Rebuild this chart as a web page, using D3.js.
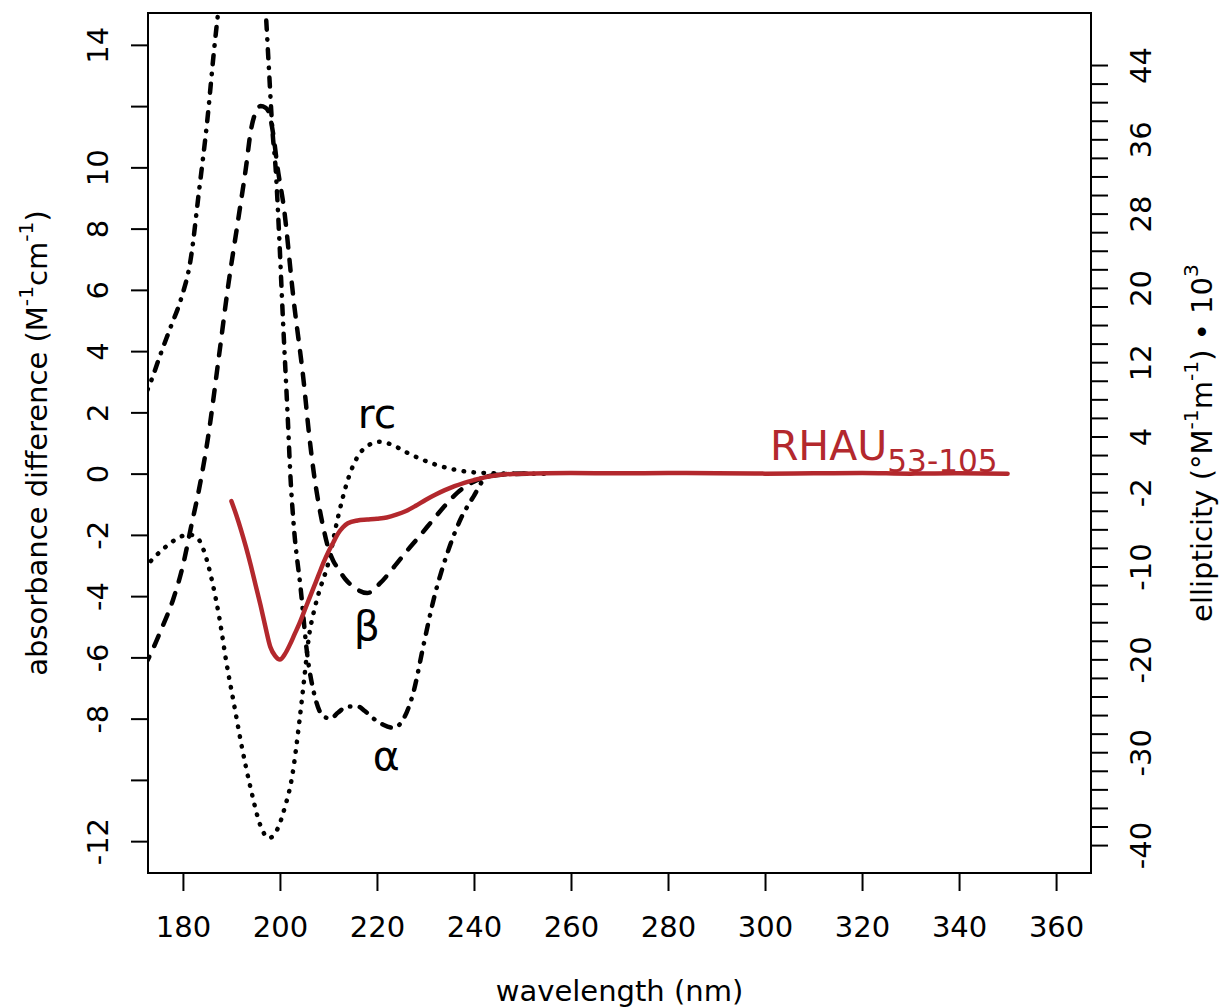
<!DOCTYPE html>
<html>
<head>
<meta charset="utf-8">
<script src="https://cdn.jsdelivr.net/npm/d3@7"></script>
<style>
  body { margin: 0; background: #fff; }
  svg { display: block; }
  text { font-family: "DejaVu Sans", sans-serif; fill: #000; }
</style>
</head>
<body>
<svg id="chart" width="1224" height="1007"></svg>
<script>
// ---- Reference CD spectra (Δε, M^-1 cm^-1) ----
// random coil
const rcWavelength = [172, 174, 176, 178, 180, 181.5, 183, 184.5, 186, 187.5, 189, 190.5, 192, 194, 196, 197.7, 199.5, 201, 202.5, 204, 205, 206, 207, 208, 210, 212, 214, 216, 218, 220.5, 223, 226, 229, 232, 236, 240, 245, 250, 255];
const rcValues     = [-3.1, -2.75, -2.45, -2.2, -2.03, -2.0, -2.1, -2.6, -3.5, -4.7, -6.2, -7.5, -8.8, -10.3, -11.5, -11.9, -11.6, -10.9, -9.9, -8.1, -6.7, -5.3, -4.5, -3.9, -2.9, -1.4, -0.2, 0.55, 0.9, 1.04, 0.95, 0.7, 0.48, 0.3, 0.13, 0.04, 0.01, 0.0, 0.0];

// beta sheet
const betaWavelength = [172, 173, 175.5, 178, 180, 181.6, 183.7, 185.1, 187.4, 189.3, 191.3, 193, 194, 195, 196, 197, 197.7, 198.6, 199.5, 200.8, 202.8, 204.9, 206, 207, 208, 209, 210, 211, 212, 213.5, 215.2, 218, 220.7, 223.5, 226.3, 229, 231.6, 234, 236.6, 239.5, 242.7, 247, 252];
const betaValues     = [-6.3, -6.0, -5.1, -4.1, -3.0, -1.8, -0.2, 1.1, 3.8, 6.1, 8.2, 10.0, 11.2, 11.8, 12.0, 11.95, 11.8, 11.1, 10.0, 8.7, 5.7, 3.0, 1.3, 0.0, -1.0, -1.8, -2.45, -2.85, -3.1, -3.45, -3.7, -3.9, -3.57, -3.05, -2.5, -2.0, -1.5, -1.05, -0.62, -0.3, -0.1, -0.02, 0.0];

// alpha helix
const alphaWavelength = [172, 173, 175.5, 177.5, 179.6, 181.6, 183.3, 185.1, 186.4, 187.5, 189, 190.5, 192, 193.5, 195, 196.2, 197.1, 197.7, 198.5, 199.1, 199.8, 200.6, 201.6, 202.2, 202.8, 204.3, 205.7, 207, 208.8, 210.4, 212, 213.9, 216, 217.5, 219.3, 221.3, 223.4, 225.5, 227.5, 229.6, 231.7, 234.5, 237.2, 239.9, 242.7, 246, 252];
const alphaValues     = [2.5, 2.85, 3.95, 4.8, 5.7, 7.0, 9.2, 11.65, 13.8, 15.4, 17.4, 18.8, 19.5, 19.4, 18.6, 16.9, 15.0, 13.3, 11.1, 10.0, 7.9, 5.1, 1.86, -0.2, -1.6, -3.8, -6.0, -7.15, -7.9, -8.0, -7.8, -7.6, -7.6, -7.75, -8.0, -8.2, -8.3, -8.0, -7.15, -5.6, -4.1, -2.6, -1.5, -0.75, -0.1, -0.02, 0.0];

// RHAU53-105 measured spectrum
const rhauWavelength = [190, 191, 192, 193, 194, 195, 196, 197, 198, 199, 200, 201, 202, 203, 204, 205, 206, 207, 208, 209, 210, 211, 212, 213, 214, 216, 218, 220, 222, 224, 226, 228, 230, 232, 234, 236, 238, 240, 242, 244, 246, 248, 250, 260, 270, 280, 290, 300, 310, 320, 330, 340, 350];
const rhauValues     = [-0.9, -1.35, -1.85, -2.4, -3.0, -3.65, -4.3, -5.0, -5.65, -5.95, -6.07, -5.9, -5.6, -5.25, -4.9, -4.5, -4.1, -3.7, -3.3, -2.9, -2.55, -2.25, -1.95, -1.75, -1.62, -1.53, -1.5, -1.47, -1.43, -1.34, -1.22, -1.05, -0.86, -0.69, -0.54, -0.41, -0.3, -0.21, -0.13, -0.07, -0.03, -0.01, 0.0, 0.02, 0.01, 0.02, 0.01, 0.0, 0.01, 0.02, 0.0, 0.01, 0.0];

// ---- Axes ----
const xLimits = [180, 360];
const yLimits = [-12, 14];
const xTicks = [180, 200, 220, 240, 260, 280, 300, 320, 340, 360];
const yTicks = [-12, -10, -8, -6, -4, -2, 0, 2, 4, 6, 8, 10, 12, 14];
const yLabelled = [-12, -8, -6, -4, -2, 0, 2, 4, 6, 8, 10, 14];
// ellipticity (deg cm^2 dmol^-1 / 10^3) = 3.298 * Δε
const ellipticityFactor = 3.298;
const rightTicks = d3.range(-40, 45, 2);
const rightLabelled = [44, 36, 28, 20, 12, 4, -2, -10, -20, -30, -40];

const svg = d3.select("#chart");
const W = 1224, H = 1007;
svg.append("rect").attr("width", W).attr("height", H).attr("fill", "#fff");

const plot = { left: 148, right: 1091, top: 13, bottom: 873 };

// R-style 4% range extension
const extend = ([a, b]) => { const d = (b - a) * 0.04; return [a - d, b + d]; };
const x = d3.scaleLinear().domain(extend(xLimits)).range([plot.left, plot.right]);
const y = d3.scaleLinear().domain(extend(yLimits)).range([plot.bottom, plot.top]);
const yR = d3.scaleLinear().domain(y.domain().map(v => v * ellipticityFactor)).range([plot.bottom, plot.top]);

const tickFont = 29;
const labelFont = 29;

// clip to plotting region
svg.append("defs").append("clipPath").attr("id", "plotClip")
  .append("rect").attr("x", plot.left).attr("y", plot.top)
  .attr("width", plot.right - plot.left).attr("height", plot.bottom - plot.top);

const line = d3.line().x(d => x(d[0])).y(d => y(d[1])).curve(d3.curveMonotoneX);
const curves = svg.append("g").attr("clip-path", "url(#plotClip)");

const zip = (a, b) => a.map((v, i) => [v, b[i]]);

const styles = [
  { data: zip(rcWavelength, rcValues), dash: "0.5 9.5" },
  { data: zip(betaWavelength, betaValues), dash: "11 12" },
  { data: zip(alphaWavelength, alphaValues), dash: "9 9.5 0.5 9.5" }
];
styles.forEach(s => {
  curves.append("path").datum(s.data)
    .attr("d", line).attr("fill", "none")
    .attr("stroke", "#000").attr("stroke-width", 4.5)
    .attr("stroke-linecap", "round").attr("stroke-linejoin", "round")
    .attr("stroke-dasharray", s.dash);
});

const red = "#b3282d";
curves.append("path").datum(zip(rhauWavelength, rhauValues))
  .attr("d", line).attr("fill", "none")
  .attr("stroke", red).attr("stroke-width", 4.5)
  .attr("stroke-linecap", "round").attr("stroke-linejoin", "round");

// ---- frame ----
svg.append("rect")
  .attr("x", plot.left).attr("y", plot.top)
  .attr("width", plot.right - plot.left).attr("height", plot.bottom - plot.top)
  .attr("fill", "none").attr("stroke", "#000").attr("stroke-width", 2);

// bottom axis
const xAxis = svg.append("g").attr("transform", `translate(0,${plot.bottom})`)
  .call(d3.axisBottom(x).tickValues(xTicks).tickSize(18).tickFormat(d3.format("d")));
xAxis.select(".domain").remove();
xAxis.selectAll("line").attr("stroke", "#000").attr("stroke-width", 2);
xAxis.selectAll("text").attr("y", 64).attr("dy", null)
  .attr("font-size", tickFont).attr("font-family", "DejaVu Sans");

// left axis
const yAxis = svg.append("g").attr("transform", `translate(${plot.left},0)`)
  .call(d3.axisLeft(y).tickValues(yTicks).tickSize(17)
    .tickFormat(d => yLabelled.includes(d) ? String(d) : ""));
yAxis.select(".domain").remove();
yAxis.selectAll("line").attr("stroke", "#000").attr("stroke-width", 2);
yAxis.selectAll("text").filter(d => !yLabelled.includes(d)).remove();
yAxis.selectAll("text")
  .attr("x", 0).attr("y", 0).attr("dy", null)
  .attr("text-anchor", "middle")
  .attr("transform", "translate(-40,0) rotate(-90)")
  .attr("font-size", tickFont).attr("font-family", "DejaVu Sans");

// right axis (ellipticity)
const rAxis = svg.append("g").attr("transform", `translate(${plot.right},0)`)
  .call(d3.axisRight(yR).tickValues(rightTicks).tickSize(17)
    .tickFormat(d => rightLabelled.includes(d) ? String(d) : ""));
rAxis.select(".domain").remove();
rAxis.selectAll("line").attr("stroke", "#000").attr("stroke-width", 2);
rAxis.selectAll("text").filter(d => !rightLabelled.includes(d)).remove();
rAxis.selectAll("text")
  .attr("x", 0).attr("y", 0).attr("dy", null)
  .attr("text-anchor", "middle")
  .attr("transform", "translate(60,0) rotate(-90)")
  .attr("font-size", tickFont).attr("font-family", "DejaVu Sans");

// ---- axis titles ----
// builds a text from plain / superscript / subscript pieces
function richText(sel, parts, fs) {
  let shift = 0;
  parts.forEach(p => {
    const target = p.sup ? -0.5 * fs : (p.sub ? 0.3 * fs : 0);
    const ts = sel.append("tspan");
    if (target !== shift) ts.attr("dy", target - shift);
    shift = target;
    if (p.sup || p.sub) ts.attr("font-size", 0.7 * fs);
    ts.text(p.t);
  });
}

svg.append("text")
  .attr("x", (plot.left + plot.right) / 2).attr("y", 1001)
  .attr("text-anchor", "middle").attr("font-size", labelFont)
  .text("wavelength (nm)");

const leftTitle = svg.append("text")
  .attr("transform", `translate(47,${(plot.top + plot.bottom) / 2}) rotate(-90)`)
  .attr("text-anchor", "middle").attr("font-size", labelFont);
richText(leftTitle, [{ t: "absorbance difference (M" }, { t: "-1", sup: true }, { t: "cm" }, { t: "-1", sup: true }, { t: ")" }], labelFont);

const rightTitle = svg.append("text")
  .attr("transform", `translate(1212,${(plot.top + plot.bottom) / 2}) rotate(-90)`)
  .attr("text-anchor", "middle").attr("font-size", labelFont);
richText(rightTitle, [{ t: "ellipticity (°M" }, { t: "-1", sup: true }, { t: "m" }, { t: "-1", sup: true }, { t: ") • 10" }, { t: "3", sup: true }], labelFont);

// ---- curve labels ----
const annoFont = 41;
const annotations = [
  { text: "rc", wl: 220.0, v: 1.49 },
  { text: "β", wl: 217.9, v: -5.43 },
  { text: "α", wl: 221.9, v: -9.67 }
];
annotations.forEach(a => {
  svg.append("text").attr("x", x(a.wl)).attr("y", y(a.v))
    .attr("text-anchor", "middle").attr("font-size", annoFont).text(a.text);
});

const rhauLabel = svg.append("text").attr("x", x(301)).attr("y", y(0.44))
  .attr("font-size", annoFont).style("fill", red);
richText(rhauLabel, [{ t: "RHAU" }, { t: "53-105", sub: true }], annoFont);
rhauLabel.selectAll("tspan").filter((d, i) => i === 1).attr("font-size", 0.76 * annoFont);
</script>
</body>
</html>
